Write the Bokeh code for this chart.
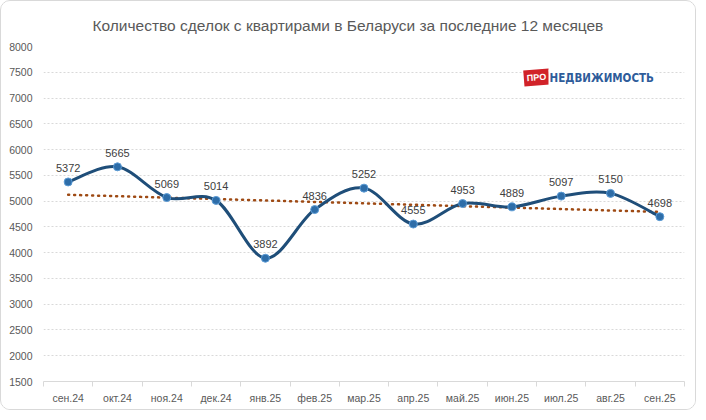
import numpy as np
from bokeh.plotting import figure
from bokeh.models import FixedTicker, Range1d, Label, Title
from bokeh.embed import file_html
from bokeh.resources import INLINE
from bokeh.core.properties import value

months = ["сен.24", "окт.24", "ноя.24", "дек.24", "янв.25", "фев.25", "мар.25",
          "апр.25", "май.25", "июн.25", "июл.25", "авг.25", "сен.25"]
deals = [5372, 5665, 5069, 5014, 3892, 4836, 5252, 4555, 4953, 4889, 5097, 5150, 4698]
y_ticks = list(range(1500, 8001, 500))
title_text = "Количество сделок с квартирами в Беларуси за последние 12 месяцев"

W, H = 696, 410
FONT = "Liberation Sans"
p = figure(width=W, height=H, output_backend="svg", toolbar_location=None,
           x_range=Range1d(-0.5, len(months) - 0.5), y_range=Range1d(1500, 8000),
           min_border_left=42, min_border_right=13, min_border_top=45, min_border_bottom=30)
p.outline_line_color = None
p.background_fill_color = "white"
p.border_fill_color = "white"
p.styles = {"border": "1px solid #D9D9D9", "border-radius": "10px", "overflow": "hidden"}

# title
p.title = Title(text=title_text, align="left", offset=49, text_font=FONT,
                text_font_size="15.5px", text_font_style="normal", text_color="#595959",
                standoff=26)

# y axis
p.yaxis.ticker = FixedTicker(ticks=y_ticks)
p.yaxis.axis_line_color = None
p.yaxis.major_tick_line_color = None
p.yaxis.minor_tick_line_color = None
p.yaxis.major_tick_out = 0
p.yaxis.major_label_standoff = 11
p.yaxis.major_label_text_font = FONT
p.yaxis.major_label_text_font_size = "10.5px"
p.yaxis.major_label_text_color = "#595959"

# x axis
idx = list(range(len(months)))
p.xaxis.ticker = FixedTicker(ticks=idx, minor_ticks=[i - 0.5 for i in range(len(months) + 1)])
p.xaxis.major_label_overrides = {i: m for i, m in enumerate(months)}
p.xaxis.axis_line_color = "#D9D9D9"
p.xaxis.major_tick_line_color = None
p.xaxis.major_tick_out = 0
p.xaxis.minor_tick_in = 0
p.xaxis.minor_tick_out = 5
p.xaxis.minor_tick_line_color = "#D9D9D9"
p.xaxis.major_label_standoff = 5
p.xaxis.major_label_text_font = FONT
p.xaxis.major_label_text_font_size = "10.5px"
p.xaxis.major_label_text_color = "#595959"

p.xgrid.visible = False
p.ygrid.grid_line_color = "#D9D9D9"
p.ygrid.grid_line_dash = "2 2"
p.ygrid.grid_line_width = 1

# smoothed line (Catmull-Rom bezier from the data)
x = np.arange(len(deals), dtype=float)
y = np.array(deals, dtype=float)
xp = np.concatenate([[x[0]], x, [x[-1]]])
yp = np.concatenate([[y[0]], y, [y[-1]]])
cx0 = xp[1:-2] + (xp[2:-1] - xp[0:-3]) / 6
cy0 = yp[1:-2] + (yp[2:-1] - yp[0:-3]) / 6
cx1 = xp[2:-1] - (xp[3:] - xp[1:-2]) / 6
cy1 = yp[2:-1] - (yp[3:] - yp[1:-2]) / 6

# trend line
k, b = np.polyfit(x, y, 1)
p.line([x[0], x[-1]], [k * x[0] + b, k * x[-1] + b], line_color="#9E4A14",
       line_width=2.5, line_dash="1 5", line_cap="round")

p.bezier(x0=x[:-1], y0=y[:-1], x1=x[1:], y1=y[1:], cx0=cx0, cy0=cy0, cx1=cx1, cy1=cy1,
         line_color="#1F4E79", line_width=3)
p.scatter(x, y, size=8, fill_color="#2E6DA8", line_color="#5B9BD5", line_width=1)
p.text(x, y, text=[str(v) for v in deals], y_offset=-14, text_align="center",
       text_baseline="alphabetic", text_font=value(FONT), text_font_size="11px",
       text_color="#404040")

# logo (screen units are relative to the plot frame)
p.add_layout(Label(x=493, y=304, x_units="screen", y_units="screen", text="ПРО",
                   text_align="center", text_baseline="middle", angle=0.08,
                   text_font=FONT, text_font_size="9px", text_font_style="bold",
                   text_color="white", background_fill_color="#D12229",
                   padding=3))
p.add_layout(Label(x=505, y=304, x_units="screen", y_units="screen", text="НЕДВИЖИМОСТЬ",
                   text_align="left", text_baseline="middle",
                   text_font="DejaVu Sans Condensed", text_font_size="11.5px",
                   text_font_style="bold", text_color="#2E5C9A",
                   background_fill_color="white", padding=1))

open("out.html", "w").write(file_html(p, INLINE))
